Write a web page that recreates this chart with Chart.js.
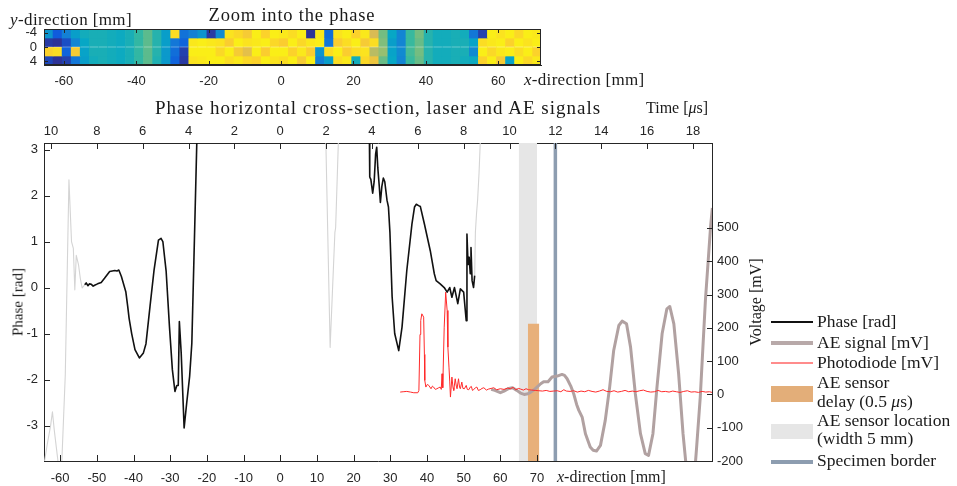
<!DOCTYPE html>
<html><head><meta charset="utf-8">
<script src="https://cdn.jsdelivr.net/npm/chart.js@4.4.1/dist/chart.umd.min.js"></script>
<style>
html,body{margin:0;padding:0;background:#fff;}
#wrap{position:relative;width:957px;height:486px;overflow:hidden;font-family:"Liberation Serif","Times New Roman",serif;color:#1a1a1a;}
canvas{position:absolute;left:0;top:0;}
.t{position:absolute;white-space:nowrap;line-height:1;}
.c{transform:translate(-50%,-50%);}
.l{transform:translateY(-50%);}
.r{transform:translate(-50%,-50%) rotate(-90deg);}
.sw{position:absolute;left:771px;width:42px;}
.lg{font-size:17.5px;left:817px;}
</style></head>
<body>
<div id="wrap">
<canvas id="main" width="957" height="486"></canvas>
<canvas id="heat" width="660" height="90"></canvas>

<div class="t c" style="left:292px;top:15px;font-size:18.5px;letter-spacing:0.8px">Zoom into the phase</div>
<div class="t l" style="left:10px;top:19px;font-size:17px;letter-spacing:0.4px"><i>y</i>-direction [mm]</div>
<div class="t l" style="left:524px;top:79px;font-size:17px;letter-spacing:0.3px"><i>x</i>-direction [mm]</div>
<div class="t c" style="left:378px;top:107px;font-size:19px;letter-spacing:1px">Phase horizontal cross-section, laser and AE signals</div>
<div class="t l" style="left:646px;top:108px;font-size:16px">Time [<i>μ</i>s]</div>
<div class="t r" style="left:18px;top:302px;font-size:15px">Phase [rad]</div>
<div class="t r" style="left:756px;top:302px;font-size:16px">Voltage [mV]</div>
<div class="t l" style="left:557px;top:477px;font-size:16px"><i>x</i>-direction [mm]</div>

<div class="sw" style="top:321px;height:2px;background:#111"></div>
<div class="t l lg" style="top:322px">Phase [rad]</div>
<div class="sw" style="top:341px;height:4px;background:#b8a9a9"></div>
<div class="t l lg" style="top:343px">AE signal [mV]</div>
<div class="sw" style="top:362px;height:2px;background:#ff8c8c"></div>
<div class="t l lg" style="top:363px">Photodiode [mV]</div>
<div class="sw" style="top:386px;height:16px;background:#e3ae79"></div>
<div class="t l lg" style="top:383px">AE sensor</div>
<div class="t l lg" style="top:402px">delay (0.5 <i>μ</i>s)</div>
<div class="sw" style="top:424px;height:15px;background:#e6e6e6"></div>
<div class="t l lg" style="top:421px">AE sensor location</div>
<div class="t l lg" style="top:439px">(width 5 mm)</div>
<div class="sw" style="top:460px;height:4px;background:#8d9db0"></div>
<div class="t l lg" style="top:461px">Specimen border</div>
</div>

<script>
// ---------- data ----------
const xTicksMm   = [-60,-50,-40,-30,-20,-10,0,10,20,30,40,50,60,70];
const timeTicks  = [-10,-8,-6,-4,-2,0,2,4,6,8,10,12,14,16,18];
const phaseTicks = [-3,-2,-1,0,1,2,3];
const voltTicks  = [-200,-100,0,100,200,300,400,500];
const heatXTicks = [-60,-40,-20,0,20,40,60];
const heatYTicks = [-4,0,4];

const waveSpeed = 6.25;          // mm per microsecond
const sensorLocation = [65, 70]; // mm (width 5 mm)
const sensorDelay = 0.5;         // microseconds
const delayStart = 67.5;         // mm
const delayTop = 212;            // mV
const specimenBorderX = 75;      // mm

// Phase cross-section (black)
const phaseX = [-53.3,-52.9,-52.4,-52.0,-51.5,-51.0,-50.6,-49.8,-48.8,-47.9,-46.5,-45.8,-45.1,-44.5,-44.0,-43.3,-42.1,-41.6,-41.2,-40.5,-39.6,-38.4,-37.3,-36.6,-35.5,-34.4,-33.2,-32.5,-32.0,-31.1,-30.2,-29.4,-28.7,-28.2,-27.8,-27.5,-27.0,-26.2,-25.5,-24.7,-24.1,-23.4,-22.7,
  0,
  24.3,24.4,24.7,25.2,25.6,26.0,26.3,26.6,27.0,27.3,27.7,28.1,28.5,29.1,29.5,29.9,30.5,31.2,32.3,33.2,34.5,35.9,36.6,37.1,37.7,38.2,39.3,40.9,42.0,42.5,43.6,44.7,45.5,46.2,46.8,47.5,48.4,49.1,50.0,50.7,50.9,51.2,51.5,51.8,52.0,52.3,52.7,53.0];
const phaseY = [0.06,0.10,0.04,0.08,0.07,0.03,0.05,0.08,0.11,0.20,0.35,0.36,0.37,0.36,0.38,0.24,-0.09,-0.40,-0.67,-1.00,-1.35,-1.53,-1.42,-1.22,-0.41,0.38,1.03,1.07,1.00,0.35,-0.85,-1.79,-2.26,-2.13,-2.13,-0.74,-1.42,-3.05,-2.51,-1.93,-1.21,1.03,3.30,
  null,
  3.30,2.40,2.35,2.05,2.30,2.90,3.05,2.60,2.20,1.85,2.20,2.38,2.30,1.90,1.75,1.20,-0.20,-1.00,-1.37,-0.86,0.37,1.38,1.75,1.81,1.78,1.76,1.38,0.80,0.30,0.15,0.08,0.00,-0.10,0.00,-0.21,0.00,-0.35,-0.03,-0.10,-0.72,1.16,0.50,0.66,0.30,0.87,0.15,0.00,0.26];

// Phase outside the region of interest (light grey)
const phaseGrayX = [-64.5,-63.5,-62.6,-62.1,-61.6,-61.0,-60.4,-59.6,-58.6,-57.6,-56.9,-56.4,-56.0,-55.6,-55.0,-54.5,-54.0,-53.3,
  -40, 12.4,13.6,14.9,15.1,15.9,
  30, 53.0,53.2,53.5,53.8,54.2,54.6];
const phaseGrayY = [-3.9,-3.4,-3.0,-2.7,-3.1,-3.5,-3.9,-3.9,-1.9,2.34,1.0,0.85,-0.05,0.7,0.5,0.2,-0.01,0.06,
  null, 3.3,-1.3,1.2,1.3,3.3,
  null, 0.26,1.2,1.6,1.9,2.5,3.3];

// AE signal [mV]
const aeX = [57.5,58.5,60.0,61.0,62.3,63.3,64.5,65.5,66.5,67.5,68.3,69.2,70.0,71.0,71.8,73.0,74.1,75.5,76.8,77.5,78.2,79.2,80.0,80.8,81.4,82.3,83.2,84.5,85.3,86.2,87.3,88.6,89.8,90.9,92.3,93.2,94.4,95.5,96.8,98.2,99.5,100.4,101.6,102.7,104.1,105.4,106.2,107.3,108.6,109.8,110.7,111.8,112.8,113.5,114.5,115.9,117.3,117.8];
const aeV = [15,12,5,10,18,20,12,4,0,2,7,14,22,32,38,38,52,55,60,57,47,25,2,-30,-48,-68,-118,-158,-168,-170,-153,-78,22,132,207,220,212,142,2,-118,-178,-183,-118,22,182,257,264,212,62,-118,-220,-300,-260,-160,-8,282,502,560];

// Photodiode [mV]
const pdX = [32.7,33.5,34.5,35.5,36.4,37.5,37.8,38.1,38.3,38.6,39.1,39.3,39.4,39.7,40.1,40.5,41.1,41.5,41.8,42.3,42.7,43.2,43.6,43.9,44.1,44.3,44.7,45.1,45.5,45.7,46.0,46.2,46.4,46.8,47.1,47.3,47.7,48.0,48.2,48.6,48.9,49.1,49.5,49.8,50.2,50.7,51.0,51.4,51.8,52.1,52.4,52.7,53.2,53.6,54.0,54.5,55.0,55.5,56.2,56.8,57.5,58.2,59.0,60.0,61.0,62.0,62.7,63.5,64.2,65.0,65.5,66.3,67.0,67.7,68.5,69.5,70.5,71.5,72.5,73.5,74.5,75.5,76.5,77.3,78.0,79.0,80.0,81.0,82.0,83.0,84.0,85.0,86.0,87.0,88.0,89.0,90.0,91.0,92.0,93.0,94.0,95.0,96.0,97.0,98.0,99.0,100.0,101.0,102.0,103.0,104.0,105.0,106.0,107.0,108.0,109.0,110.0,111.0,112.0,113.0,114.0,115.0,116.0,117.0,117.7];
const pdV = [7,8,9,7,5,5,12,180,222,242,232,120,42,22,30,27,17,25,22,15,17,20,22,15,62,20,202,307,252,142,82,40,-8,52,20,12,47,25,17,47,20,17,37,18,17,27,15,14,22,24,12,14,20,22,12,14,18,20,13,16,18,20,14,17,15,19,17,21,14,18,16,13,17,14,13,12,11,10,12,9,10,11,8,14,10,9,11,7,10,8,12,9,7,10,14,9,8,11,7,9,12,8,10,8,11,13,9,7,8,12,8,9,7,10,8,6,9,11,7,8,6,9,7,8,6];

// Phase map (zoom strip): column centres [mm], row edges [mm], phase [rad]
const heatX = [-64.25,-61.75,-59.25,-56.75,-54.25,-51.75,-49.25,-46.75,-44.25,-41.75,-39.25,-36.75,-34.25,-31.75,-29.25,-26.75,-24.25,-21.75,-19.25,-16.75,-14.25,-11.75,-9.25,-6.75,-4.25,-1.75,0.75,3.25,5.75,8.25,10.75,13.25,15.75,18.25,20.75,23.25,25.75,28.25,30.75,33.25,35.75,38.25,40.75,43.25,45.75,48.25,50.75,53.25,55.75,58.25,60.75,63.25,65.75,68.25,70.75];
const heatYEdges = [-5.1,-2.55,0,2.55,5.1];
const heatRow0 = [-1.2,-2.4,-1.6,-1.0,-0.6,-0.5,-0.5,-0.6,-0.7,-0.5,-0.1,0.3,-0.3,-1.0,2.6,-1.9,-1.6,-1.2,-2.9,-1.4,2.7,2.5,2.2,2.9,2.4,2.9,2.8,2.6,2.9,-3.0,2.8,-2.0,2.7,2.9,2.4,2.8,1.6,0.5,-0.8,-1.5,0.0,0.5,-0.3,-0.6,-0.6,-0.5,-0.6,-1.8,-2.8,2.9,2.7,2.9,2.5,2.9,2.8];
const heatRow1 = [-2.9,-3.0,-2.6,-1.5,-0.8,-0.5,-0.5,-0.6,-0.7,-0.5,-0.1,0.3,-0.3,-1.0,-1.8,-2.2,2.8,2.9,2.8,2.7,2.3,2.9,2.7,2.8,2.9,2.5,2.3,2.9,2.5,2.8,2.9,-1.8,2.3,2.6,2.9,2.2,2.6,0.6,-1.0,-1.5,0.0,0.4,-0.3,-0.6,-0.6,-0.5,-0.5,-0.9,2.6,2.8,2.9,2.4,2.9,2.7,2.9];
const heatRow2 = [2.4,2.6,-2.2,2.2,-0.9,-0.5,-0.5,-0.6,-0.7,-0.5,-0.1,0.3,-0.3,-1.1,-2.0,-2.8,2.9,2.9,2.9,2.5,2.9,2.2,1.8,2.9,2.3,2.9,2.9,2.4,2.8,2.3,-1.2,2.6,2.9,2.3,2.6,2.7,1.2,0.8,-0.9,-1.4,0.1,0.5,-0.3,-0.6,-0.6,-0.5,-0.5,-1.4,2.9,2.5,2.8,2.9,2.6,2.9,2.4];
const heatRow3 = [-2.7,-3.0,-2.8,-1.8,-1.0,-0.6,-0.5,-0.6,-0.7,-0.5,-0.1,0.3,-0.4,-1.1,-2.2,-2.9,2.7,2.8,2.9,2.9,2.6,2.8,2.5,2.4,2.9,2.7,2.6,2.9,2.2,2.9,-1.6,-1.0,2.6,2.8,-0.6,2.5,2.0,0.4,-0.8,-1.5,0.0,0.4,-0.3,-0.6,-0.6,-0.5,-0.6,-0.7,2.4,2.9,2.2,-0.9,2.9,2.5,2.8];
const heatRows = [heatRow0, heatRow1, heatRow2, heatRow3];

// ---------- helpers ----------
const xy = (xs, ys) => xs.map((x, i) => ({x, y: ys[i]}));
const parulaStops = [[0,[53,42,135]],[0.12,[15,92,221]],[0.25,[20,129,212]],[0.37,[6,167,198]],[0.5,[56,185,158]],[0.62,[146,191,115]],[0.75,[217,186,86]],[0.87,[252,206,46]],[1,[249,251,14]]];
function parula(v){
  const t = Math.max(0, Math.min(1, (v + Math.PI) / (2*Math.PI)));
  for (let i = 1; i < parulaStops.length; i++){
    const [t1,c1] = parulaStops[i], [t0,c0] = parulaStops[i-1];
    if (t <= t1){
      const f = (t - t0)/(t1 - t0);
      return 'rgb(' + c0.map((c,k)=>Math.round(c + f*(c1[k]-c))).join(',') + ')';
    }
  }
  return 'rgb(249,251,14)';
}
const FRAME = '#262626';
const tickFont = {family:'"Liberation Sans", Arial, sans-serif', size:13};
const setTicks = arr => s => { s.ticks = arr.map(v => ({value:v})); };

const inwardTicks = {
  id:'inwardTicks',
  afterDraw(chart, args, opts){
    const {ctx, chartArea:a} = chart;
    ctx.save();
    ctx.strokeStyle = FRAME; ctx.lineWidth = 1;
    for (const id in chart.scales){
      const s = chart.scales[id];
      const len = (opts.len && opts.len[id]) || 5;
      s.ticks.forEach(t => {
        const p = Math.round(s.getPixelForValue(t.value)) + 0.5;
        ctx.beginPath();
        if (s.position === 'bottom'){ ctx.moveTo(p, a.bottom); ctx.lineTo(p, a.bottom - len);
          if (opts.mirror){ ctx.moveTo(p, a.top); ctx.lineTo(p, a.top + len); } }
        else if (s.position === 'top'){ ctx.moveTo(p, a.top); ctx.lineTo(p, a.top + len); }
        else if (s.position === 'left'){ ctx.moveTo(a.left, p); ctx.lineTo(a.left + len, p);
          if (opts.mirror){ ctx.moveTo(a.right, p); ctx.lineTo(a.right - len, p); } }
        else { ctx.moveTo(a.right, p); ctx.lineTo(a.right - len, p); }
        ctx.stroke();
      });
    }
    if (opts.box){
      ctx.strokeRect(Math.round(a.left)+0.5, Math.round(a.top)+0.5, Math.round(a.right-a.left)-1, Math.round(a.bottom-a.top)-1);
    }
    ctx.restore();
  }
};

const axisCommon = (extra) => Object.assign({
  type:'linear',
  grid:{drawOnChartArea:false, drawTicks:false},
  border:{display:true, color:FRAME, width:1},
}, extra);

// ---------- zoom strip (phase map) ----------
new Chart(document.getElementById('heat'), {
  type:'bar',
  data:{ datasets: heatRows.map((row, r) => ({
    data: heatX.map((x, i) => ({x, y:[heatYEdges[r], heatYEdges[r+1]]})),
    backgroundColor: row.map(parula),
    borderWidth:0, grouped:false, barPercentage:1, categoryPercentage:1
  }))},
  options:{
    responsive:false, animation:false, events:[],
    layout:{padding:{left:0, right:119, top:29, bottom:0}},
    plugins:{legend:{display:false}, tooltip:{enabled:false}, inwardTicks:{len:{x:4,y:4}, box:true, mirror:true}},
    scales:{
      x: axisCommon({min:-65.5, max:71.8, offset:false, afterBuildTicks:setTicks(heatXTicks),
          ticks:{font:tickFont, color:FRAME, padding:9, maxRotation:0, autoSkip:false, callback:v=>String(v)},
          afterFit:s=>{s.height=25;}}),
      y: axisCommon({min:-5.1, max:5.1, reverse:true, afterBuildTicks:setTicks(heatYTicks),
          ticks:{font:tickFont, color:FRAME, padding:7, autoSkip:false, callback:v=>String(v)},
          afterFit:s=>{s.width=44;}})
    }
  },
  plugins:[inwardTicks]
});

// ---------- main chart ----------
const xMin = -64.4, xMax = 117.7;
const phaseMin = -3.77, phaseMax = Math.PI;
const voltMin = -200, voltMax = 755;

new Chart(document.getElementById('main'), {
  type:'line',
  data:{datasets:[
    {label:'Phase [rad]', data:xy(phaseX, phaseY), yAxisID:'y', borderColor:'#111111', borderWidth:1.6, order:1},
    {label:'Phase (wrapped)', data:xy(phaseGrayX, phaseGrayY), yAxisID:'y', borderColor:'#d4d4d4', borderWidth:1.1, order:2},
    {label:'Photodiode [mV]', data:xy(pdX, pdV), yAxisID:'y2', borderColor:'#ff2a2a', borderWidth:1, order:3},
    {label:'AE signal [mV]', data:xy(aeX, aeV), yAxisID:'y2', borderColor:'#b1a1a1', borderWidth:3, order:4},
    {label:'Specimen border', data:[{x:specimenBorderX, y:voltMin},{x:specimenBorderX, y:voltMax}], yAxisID:'y2', borderColor:'#8d9db0', borderWidth:3.5, order:5},
    {label:'AE sensor delay', data:[{x:delayStart, y:delayTop},{x:delayStart + sensorDelay*waveSpeed, y:delayTop}], yAxisID:'y2', borderColor:'rgba(0,0,0,0)', borderWidth:0, backgroundColor:'#e8b07a', fill:'start', order:6},
    {label:'AE sensor location', data:[{x:sensorLocation[0], y:voltMax},{x:sensorLocation[1], y:voltMax}], yAxisID:'y2', borderColor:'rgba(0,0,0,0)', borderWidth:0, backgroundColor:'#e6e6e6', fill:'start', order:7}
  ]},
  options:{
    responsive:false, animation:false, events:[],
    spanGaps:false,
    elements:{point:{radius:0}, line:{tension:0, borderJoinStyle:'round'}},
    layout:{padding:{left:0, right:187, top:115, bottom:0}},
    plugins:{legend:{display:false}, tooltip:{enabled:false}, inwardTicks:{len:{x:6,x2:6,y:6,y2:5}}},
    scales:{
      x: axisCommon({position:'bottom', min:xMin, max:xMax, afterBuildTicks:setTicks(xTicksMm),
          ticks:{font:tickFont, color:FRAME, padding:10, maxRotation:0, autoSkip:false, callback:v=>String(v)},
          afterFit:s=>{s.height=25;}}),
      x2: axisCommon({position:'top', min:xMin/waveSpeed, max:xMax/waveSpeed, afterBuildTicks:setTicks(timeTicks),
          ticks:{font:tickFont, color:FRAME, padding:4, maxRotation:0, autoSkip:false, callback:v=>String(Math.abs(v))},
          afterFit:s=>{s.height=28;}}),
      y: axisCommon({position:'left', min:phaseMin, max:phaseMax, afterBuildTicks:setTicks(phaseTicks),
          ticks:{font:tickFont, color:FRAME, padding:6, autoSkip:false, callback:v=>String(v)},
          afterFit:s=>{s.width=44;}}),
      y2: axisCommon({position:'right', min:voltMin, max:voltMax, afterBuildTicks:setTicks(voltTicks),
          ticks:{font:tickFont, color:FRAME, padding:5, autoSkip:false, callback:v=>String(v)},
          afterFit:s=>{s.width=58;}})
    }
  },
  plugins:[inwardTicks]
});
</script>
</body></html>
